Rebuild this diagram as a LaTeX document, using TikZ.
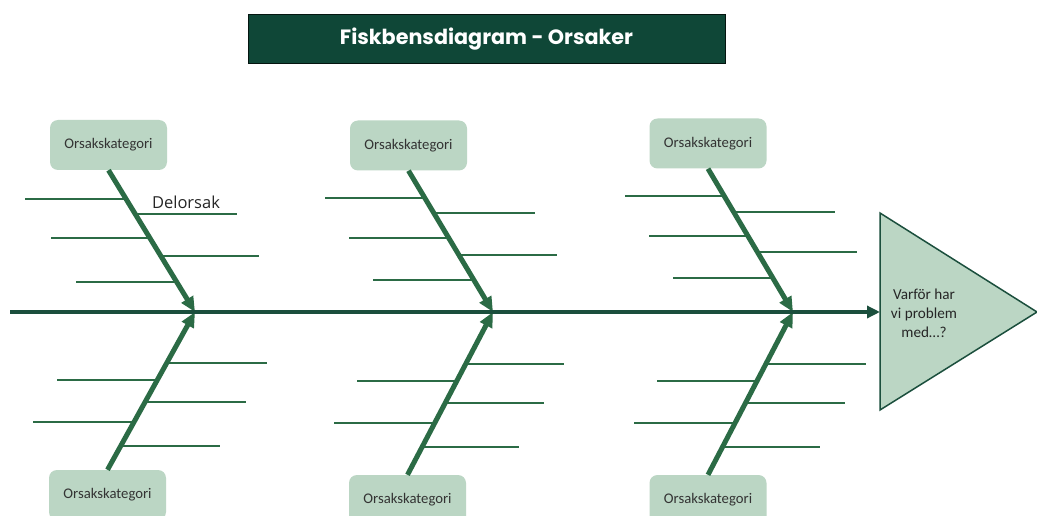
\documentclass[tikz,border=0pt]{standalone}
\usepackage{fontspec}
\setmainfont{Carlito}
\newfontfamily\titlefont{Poppins}
\newfontfamily\subfont{Open Sans}
\usetikzlibrary{arrows.meta}

\definecolor{darkgreen}{HTML}{0F4737}
\definecolor{spinegreen}{HTML}{1B4F3D}
\definecolor{bonegreen}{HTML}{2B6B45}
\definecolor{palegreen}{HTML}{BBD6C4}

\begin{document}
\begin{tikzpicture}[x=1pt, y=-1pt,
    category/.style={rectangle, rounded corners=8pt, fill=palegreen, minimum width=117pt, minimum height=50pt, inner sep=0pt, text=black!80, font=\fontsize{14.7}{17}\selectfont},
    bone/.style={line width=5pt, draw=bonegreen, -{Triangle[length=15pt,width=13pt]}},
    twig/.style={line width=2pt, draw=bonegreen},
    spine/.style={line width=4.5pt, draw=spinegreen, -{Triangle[length=13pt,width=12pt]}}]

        \clip (0,0) rectangle (1037,516);
        \fill[white] (0,0) rectangle (1037,516);

        \node[fill=darkgreen, draw=black!70!darkgreen, line width=1pt, minimum width=477pt, minimum height=49pt, text=white, font=\titlefont\bfseries\fontsize{20.7}{22}\selectfont] (title) at (486.5,39.5) {Fiskbensdiagram - Orsaker};

        \begin{scope}[shift={(0,0)}]
            \node[category] (cat_a_top) at (108.5,145) {Orsakskategori};
            \node[category] (cat_a_bot) at (107.5,495) {Orsakskategori};
            \coordinate (joint_a) at (195,312);

            \draw[twig] (25,199) -- (125,199);
            \draw[twig] (135,214) -- (237,214);
            \draw[twig] (51,238) -- (150,238);
            \draw[twig] (161,256) -- (259,256);
            \draw[twig] (76,282) -- (177,282);

            \draw[twig] (167,363) -- (267,363);
            \draw[twig] (57,380) -- (158,380);
            \draw[twig] (145,402) -- (246,402);
            \draw[twig] (33,422) -- (134,422);
            \draw[twig] (120,446) -- (220,446);

            \draw[bone] (cat_a_top.south) -- (joint_a);
            \draw[bone] (cat_a_bot.north) -- (joint_a);

            \node[font=\subfont\fontsize{16.5}{18}\selectfont, text=black!85] (sub_a) at (186,202) {Delorsak};
        \end{scope}

        \begin{scope}[shift={(300,0)}]
            \node[category] (cat_b_top) at (108.5,145.5) {Orsakskategori};
            \node[category] (cat_b_bot) at (107.5,500) {Orsakskategori};
            \coordinate (joint_b) at (193,312);

            \draw[twig] (25,198) -- (123,198);
            \draw[twig] (135,213) -- (235,213);
            \draw[twig] (49,238) -- (148,238);
            \draw[twig] (160,255) -- (257,255);
            \draw[twig] (73,280) -- (175,280);

            \draw[twig] (165,364) -- (264,364);
            \draw[twig] (57,381) -- (157,381);
            \draw[twig] (146,403) -- (244,403);
            \draw[twig] (34,423) -- (135,423);
            \draw[twig] (122,447) -- (219,447);

            \draw[bone] (cat_b_top.south) -- (joint_b);
            \draw[bone] (cat_b_bot.north) -- (joint_b);
        \end{scope}

        \begin{scope}[shift={(600,0)}]
            \node[category] (cat_c_top) at (108,143.5) {Orsakskategori};
            \node[category] (cat_c_bot) at (108,500) {Orsakskategori};
            \coordinate (joint_c) at (193,312);

            \draw[twig] (25,196) -- (124,196);
            \draw[twig] (135,212) -- (235,212);
            \draw[twig] (49,236) -- (148,236);
            \draw[twig] (160,252) -- (257,252);
            \draw[twig] (73,278) -- (175,278);

            \draw[twig] (165,364) -- (266,364);
            \draw[twig] (57,381) -- (157,381);
            \draw[twig] (146,403) -- (245,403);
            \draw[twig] (34,423) -- (135,423);
            \draw[twig] (122,447) -- (220,447);

            \draw[bone] (cat_c_top.south) -- (joint_c);
            \draw[bone] (cat_c_bot.north) -- (joint_c);
        \end{scope}

        % spine and head
        \coordinate (tail) at (10,312);
        \coordinate (head) at (880,312);
        \draw[spine] (tail) -- (head);

        \draw[fill=palegreen, draw=spinegreen, line width=1.5pt] (880,213) -- (1037,312) -- (880,410) -- cycle;
        \node[align=center, text=black!85, font=\fontsize{15.2}{19}\selectfont] (problem) at (924,313) {Varför har\\vi problem\\med…?};

    \end{tikzpicture}
\end{document}
